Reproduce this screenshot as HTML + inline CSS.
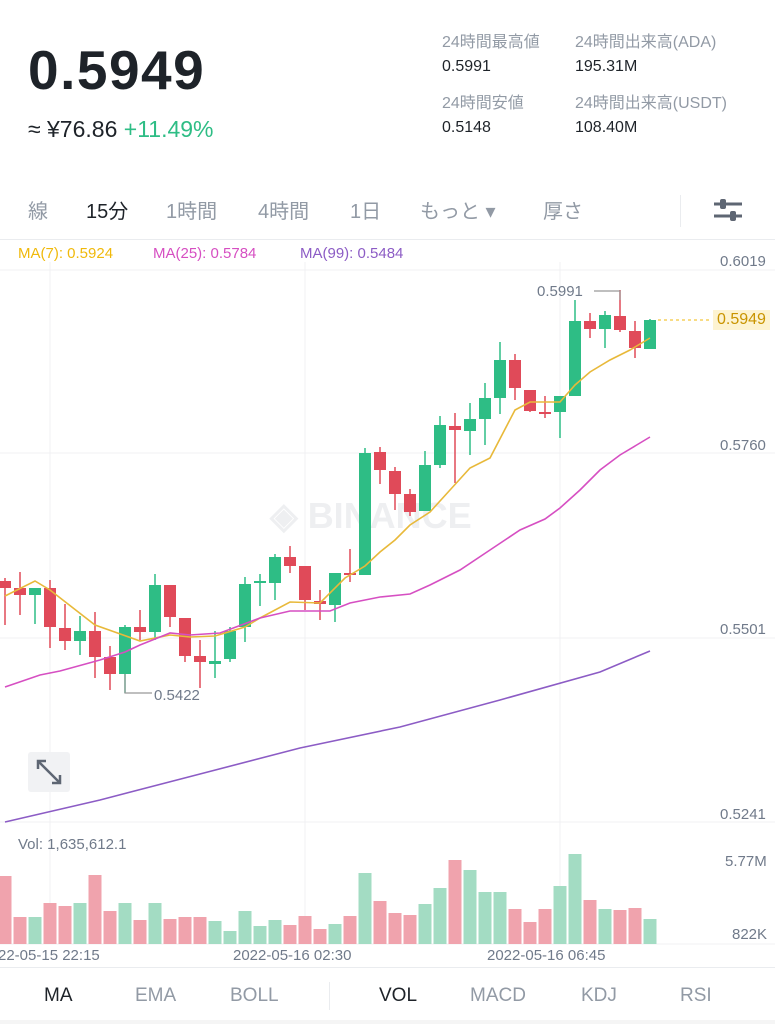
<!DOCTYPE html><html><head><meta charset="utf-8"><style>
body{margin:0;width:775px;height:1024px;background:#fff;font-family:"Liberation Sans","Noto Sans CJK JP",sans-serif;position:relative;overflow:hidden}
.a{position:absolute;white-space:nowrap}
</style></head><body>
<div class="a" style="left:28px;top:38px;font-size:55px;font-weight:bold;color:#1e2329;letter-spacing:1.5px">0.5949</div>
<div class="a" style="left:28px;top:116px;font-size:23px;color:#1e2329">≈ ¥76.86 <span style="color:#2ebd85">+11.49%</span></div>
<div class="a" style="left:442px;top:28px;font-size:16px;color:#929aa5">24時間最高値</div>
<div class="a" style="left:442px;top:58px;font-size:16px;color:#1e2329">0.5991</div>
<div class="a" style="left:442px;top:89px;font-size:16px;color:#929aa5">24時間安値</div>
<div class="a" style="left:442px;top:119px;font-size:16px;color:#1e2329">0.5148</div>
<div class="a" style="left:575px;top:28px;font-size:16px;color:#929aa5">24時間出来高(ADA)</div>
<div class="a" style="left:575px;top:58px;font-size:16px;color:#1e2329">195.31M</div>
<div class="a" style="left:575px;top:89px;font-size:16px;color:#929aa5">24時間出来高(USDT)</div>
<div class="a" style="left:575px;top:119px;font-size:16px;color:#1e2329">108.40M</div>
<div class="a" style="left:28px;top:195px;font-size:20px;color:#929aa5">線</div>
<div class="a" style="left:86px;top:195px;font-size:20px;color:#1e2329">15分</div>
<div class="a" style="left:166px;top:195px;font-size:20px;color:#929aa5">1時間</div>
<div class="a" style="left:258px;top:195px;font-size:20px;color:#929aa5">4時間</div>
<div class="a" style="left:350px;top:195px;font-size:20px;color:#929aa5">1日</div>
<div class="a" style="left:420px;top:195px;font-size:20px;color:#929aa5">もっと ▾</div>
<div class="a" style="left:543px;top:195px;font-size:20px;color:#929aa5">厚さ</div>
<div class="a" style="left:680px;top:195px;width:1px;height:32px;background:#eaecef"></div>
<svg class="a" style="left:712px;top:196px" width="32" height="28"><g stroke="#5e6673" stroke-width="3"><line x1="2" y1="8" x2="30" y2="8"/><line x1="2" y1="20" x2="30" y2="20"/></g><rect x="8" y="3" width="6" height="10" rx="2" fill="#5e6673"/><rect x="18" y="15" width="6" height="10" rx="2" fill="#5e6673"/></svg>
<div class="a" style="left:0;top:239px;width:775px;height:1px;background:#eaecef"></div>
<div class="a" style="left:18px;top:245px;font-size:15px;color:#f0b90b">MA(7): 0.5924</div>
<div class="a" style="left:153px;top:245px;font-size:15px;color:#d64fc2">MA(25): 0.5784</div>
<div class="a" style="left:300px;top:245px;font-size:15px;color:#8c5cc5">MA(99): 0.5484</div>
<svg class="a" style="left:0;top:0" width="775" height="1024" id="c"></svg>
<div class="a" style="left:720px;top:253px;font-size:15px;color:#707a8a">0.6019</div>
<div class="a" style="left:720px;top:437px;font-size:15px;color:#707a8a">0.5760</div>
<div class="a" style="left:720px;top:621px;font-size:15px;color:#707a8a">0.5501</div>
<div class="a" style="left:720px;top:806px;font-size:15px;color:#707a8a">0.5241</div>
<div class="a" style="left:713px;top:310px;font-size:16px;color:#c99400;background:#fdf3d1;padding:1px 4px">0.5949</div>
<div class="a" style="left:537px;top:283px;font-size:15px;color:#707a8a">0.5991</div>
<div class="a" style="left:154px;top:687px;font-size:15px;color:#707a8a">0.5422</div>
<div class="a" style="left:28px;top:752px;width:42px;height:40px;background:#f1f2f4;border-radius:3px"></div>
<svg class="a" style="left:34px;top:757px" width="30" height="30"><g stroke="#5e6673" stroke-width="2.5" fill="none"><line x1="4" y1="4" x2="26" y2="26"/><polyline points="4,12 4,4 12,4"/><polyline points="18,26 26,26 26,18"/></g></svg>
<div class="a" style="left:18px;top:836px;font-size:15px;color:#707a8a">Vol: 1,635,612.1</div>
<div class="a" style="left:725px;top:853px;font-size:15px;color:#707a8a">5.77M</div>
<div class="a" style="left:732px;top:926px;font-size:15px;color:#707a8a">822K</div>
<div class="a" style="left:-2px;top:947px;font-size:15px;color:#707a8a">22-05-15 22:15</div>
<div class="a" style="left:233px;top:947px;font-size:15px;color:#707a8a">2022-05-16 02:30</div>
<div class="a" style="left:487px;top:947px;font-size:15px;color:#707a8a">2022-05-16 06:45</div>
<div class="a" style="left:0;top:967px;width:775px;height:1px;background:#eaecef"></div>
<div class="a" style="left:44px;top:985px;font-size:19px;color:#1e2329">MA</div>
<div class="a" style="left:135px;top:985px;font-size:19px;color:#929aa5">EMA</div>
<div class="a" style="left:230px;top:985px;font-size:19px;color:#929aa5">BOLL</div>
<div class="a" style="left:329px;top:982px;width:1px;height:28px;background:#eaecef"></div>
<div class="a" style="left:379px;top:985px;font-size:19px;color:#1e2329">VOL</div>
<div class="a" style="left:470px;top:985px;font-size:19px;color:#929aa5">MACD</div>
<div class="a" style="left:581px;top:985px;font-size:19px;color:#929aa5">KDJ</div>
<div class="a" style="left:680px;top:985px;font-size:19px;color:#929aa5">RSI</div>
<div class="a" style="left:0;top:1020px;width:775px;height:4px;background:#f5f5f5"></div>
<script>
var s=document.getElementById('c'),h='';
h+='<g stroke="#f0f1f3" stroke-width="1">';
[270,453,638,822,944].forEach(function(y){h+='<line x1="0" y1="'+y+'" x2="775" y2="'+y+'"/>'});
[50,305,560].forEach(function(x){h+='<line x1="'+x+'" y1="262" x2="'+x+'" y2="944"/>'});
h+='</g>';
h+='<text x="270" y="528" font-size="36" font-weight="bold" fill="#eeeff1" font-family="Liberation Sans">◈ BINANCE</text>';
var C=[[0,581,588,578,625],[0,588,595,572,615],[1,588,595,588,624],[0,588,627,580,648],[0,628,641,604,650],[1,631,641,616,655],[0,631,657,612,678],[0,657,674,646,690],[1,627,674,625,693],[0,627,632,610,640],[1,585,632,574,640],[0,585,617,585,627],[0,618,656,618,662],[0,656,662,640,688],[1,661,664,631,678],[1,631,659,627,662],[1,584,627,577,642],[1,581,583,574,606],[1,557,583,554,600],[0,557,566,546,573],[0,566,600,566,610],[0,601,604,590,620],[1,573,605,573,622],[0,573,575,549,582],[1,453,575,448,575],[0,452,470,447,484],[0,471,494,467,510],[0,494,512,489,516],[1,465,511,451,511],[1,425,465,416,468],[0,426,430,413,483],[1,419,431,403,455],[1,398,419,383,445],[1,360,398,342,414],[0,360,388,354,400],[0,390,411,390,412],[0,412,414,396,418],[1,396,412,396,438],[1,321,396,300,396],[0,321,329,313,338],[1,315,329,311,348],[0,316,330,290,332],[0,331,348,321,358],[1,320,349,319,349]];
var V=[876,917,917,903,906,903,875,911,903,920,903,919,917,917,921,931,911,926,920,925,916,929,924,916,873,901,913,915,904,888,860,870,892,892,909,922,909,886,854,900,909,910,908,919];
C.forEach(function(c,i){var x=5+15*i,col=c[0]?'#2ebd85':'#e04a59',vc=c[0]?'#a3dcc3':'#f0a3ad';
h+='<line x1="'+x+'" y1="'+c[3]+'" x2="'+x+'" y2="'+c[4]+'" stroke="'+col+'" stroke-width="1.5"/>';
h+='<rect x="'+(x-6)+'" y="'+c[1]+'" width="12" height="'+Math.max(2,c[2]-c[1])+'" fill="'+col+'"/>';
h+='<rect x="'+(x-6.5)+'" y="'+V[i]+'" width="13" height="'+(944-V[i])+'" fill="'+vc+'"/>';});
function pl(p,c){h+='<polyline fill="none" stroke="'+c+'" stroke-width="1.6" points="'+p+'"/>'}
pl('5,596 35,581 50,590 95,625 140,641 170,635 190,637 215,636 245,627 260,618 290,602 320,603 345,578 365,566 380,552 395,540 410,525 430,512 450,490 470,468 490,458 515,410 530,402 560,402 575,385 590,372 610,360 630,350 650,338','#e8b93a');
pl('5,687 40,675 60,671 100,660 125,652 140,645 170,633 190,635 220,633 260,618 290,611 330,611 350,603 380,597 410,594 430,585 460,570 490,550 520,530 545,519 560,508 580,490 600,470 620,455 650,437','#d64fc2');
pl('5,822 100,800 200,774 300,748 400,727 500,700 600,672 650,651','#8c5cc5');
h+='<polyline fill="none" stroke="#999" stroke-width="1.2" points="125,674 125,693 152,693"/>';
h+='<polyline fill="none" stroke="#999" stroke-width="1.2" points="594,291 620,291 620,300"/>';
h+='<line x1="658" y1="320" x2="712" y2="320" stroke="#f0b90b" stroke-dasharray="3,3"/>';
s.innerHTML=h;
</script>
</body></html>
